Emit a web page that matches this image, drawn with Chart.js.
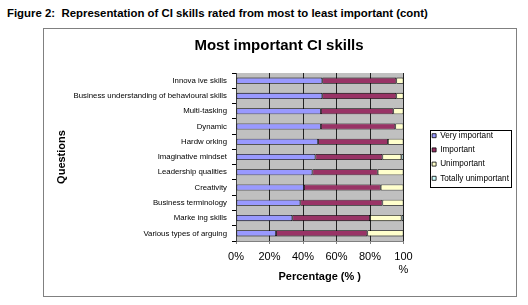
<!DOCTYPE html>
<html>
<head>
<meta charset="utf-8">
<script src="https://cdn.jsdelivr.net/npm/chart.js@4.4.1/dist/chart.umd.min.js"></script>
<style>
  html, body { margin: 0; padding: 0; background: #fff; }
  body { width: 528px; height: 305px; position: relative; overflow: hidden; }
  #caption { position: absolute; left: 7px; top: 7px; font: bold 11.4px "Liberation Sans", Arial, sans-serif; color: #000; white-space: pre; }
  #frame { position: absolute; left: 43px; top: 28px; width: 472px; height: 267px; border: 1px solid #808080; }
  #frame canvas { display: block; }
</style>
</head>
<body>
<div id="caption">Figure 2:  Representation of CI skills rated from most to least important (cont)</div>
<div id="frame"><canvas id="chart" width="472" height="267"></canvas></div>
<script>
// Skills, top to bottom as in the figure
const skills = [
    'Innova ive skills',
    'Business understanding of behavioural skills',
    'Multi-tasking',
    'Dynamic',
    'Hardw orking',
    'Imaginative mindset',
    'Leadership qualities',
    'Creativity',
    'Business terminology',
    'Marke ing skills',
    'Various types of arguing'
];

// Percent of respondents per rating
const veryImportant      = [51.5, 51.5, 50.7, 50.7, 49.0, 47.4, 45.6, 40.6, 38.4, 33.6, 23.9];
const important          = [44.2, 44.2, 43.2, 44.4, 41.7, 40.0, 39.0, 45.8, 49.0, 46.4, 54.5];
const unimportant        = [ 4.3,  4.3,  6.1,  4.9,  9.3, 11.3, 15.4, 13.6, 12.6, 18.8, 21.6];
const totallyUnimportant = [ 0.0,  0.0,  0.0,  0.0,  0.0,  1.3,  0.0,  0.0,  0.0,  1.2,  0.0];

const xTicks = [0, 20, 40, 60, 80, 100];

const sans = '"Liberation Sans", Arial, sans-serif';

// grey plot background
const plotBackground = {
    id: 'plotBackground',
    beforeDraw(chart) {
        const { ctx, chartArea: a } = chart;
        ctx.save();
        ctx.fillStyle = '#c0c0c0';
        ctx.fillRect(a.left, a.top, a.right - a.left, a.bottom - a.top);
        ctx.restore();
    }
};

// thin black frame round the legend items
const legendFrame = {
    id: 'legendFrame',
    afterDraw(chart) {
        const legend = chart.legend;
        const boxes = legend && legend.legendHitBoxes;
        if (!boxes || !boxes.length) return;
        const ctx = chart.ctx;
        const labelOpts = legend.options.labels;
        const font = Chart.helpers.toFont(labelOpts.font);
        ctx.save();
        ctx.font = font.string;
        const textW = Math.max(...legend.legendItems.map(it => ctx.measureText(it.text).width));
        const left = Math.min(...boxes.map(b => b.left)) - 2;
        const top = Math.min(...boxes.map(b => b.top)) - 2;
        const right = left + 2 + labelOpts.boxWidth + font.size / 2 + textW + 2;
        const bottom = Math.max(...boxes.map(b => b.top + b.height)) + 4;
        ctx.strokeStyle = '#000';
        ctx.lineWidth = 1;
        ctx.strokeRect(Math.round(left) + 0.5, Math.round(top) + 0.5, Math.round(right - left), Math.round(bottom - top));
        ctx.restore();
    }
};

const ctx = document.getElementById('chart').getContext('2d');
new Chart(ctx, {
    type: 'bar',
    data: {
        labels: skills,
        datasets: [
            { label: 'Very important', data: veryImportant, backgroundColor: '#9999ff' },
            { label: 'Important', data: important, backgroundColor: '#993366' },
            { label: 'Unimportant', data: unimportant, backgroundColor: '#ffffcc' },
            { label: 'Totally unimportant', data: totallyUnimportant, backgroundColor: '#ccffff' }
        ].map(d => Object.assign(d, {
            borderColor: '#000',
            borderWidth: 0.8,
            borderSkipped: false,
            categoryPercentage: 1,
            barPercentage: 0.4
        }))
    },
    options: {
        indexAxis: 'y',
        responsive: false,
        animation: false,
        devicePixelRatio: 1,
        layout: { padding: { left: 0.9, right: 2.9, top: 0, bottom: 0 } },
        scales: {
            x: {
                stacked: true,
                min: 0,
                max: 100,
                afterBuildTicks: s => { s.ticks = xTicks.map(v => ({ value: v })); },
                afterFit: s => { s.height = 55; },
                ticks: {
                    color: '#000',
                    padding: 6,
                    font: { family: sans, size: 11 },
                    callback: v => v === 100 ? ['100', '%'] : v + '%'
                },
                grid: { color: '#222', lineWidth: 1, tickLength: 3, tickColor: '#808080' },
                border: { color: '#808080' },
                title: {
                    display: true,
                    text: 'Percentage (% )',
                    color: '#000',
                    font: { family: sans, size: 11, weight: 'bold' },
                    padding: { top: 0, bottom: 12.7 }
                }
            },
            y: {
                stacked: true,
                afterFit: s => { s.width = 191.1; },
                ticks: {
                    color: '#000',
                    padding: 5,
                    autoSkip: false,
                    font: { family: sans, size: 7.8 }
                },
                grid: { drawOnChartArea: false, tickLength: 4, color: '#000' },
                border: { color: '#404040' },
                title: {
                    display: true,
                    text: 'Questions',
                    color: '#000',
                    font: { family: sans, size: 11, weight: 'bold' },
                    padding: { top: 10.1, bottom: 0 }
                }
            },
            // empty strip between plot and legend
            gap: {
                type: 'category',
                position: 'right',
                afterFit: s => { s.width = 22.6; },
                ticks: { display: false },
                grid: { display: false },
                border: { display: false }
            }
        },
        plugins: {
            title: {
                display: true,
                text: 'Most important CI skills',
                color: '#000',
                font: { family: sans, size: 15, weight: 'bold' },
                padding: { top: 7.5, bottom: 18.5 }
            },
            legend: {
                position: 'right',
                fullSize: false,
                maxWidth: 87,
                labels: {
                    color: '#000',
                    boxWidth: 4,
                    boxHeight: 4,
                    padding: 6,
                    font: { family: sans, size: 8.2 }
                }
            },
            tooltip: { enabled: false }
        }
    },
    plugins: [plotBackground, legendFrame]
});
</script>
</body>
</html>
